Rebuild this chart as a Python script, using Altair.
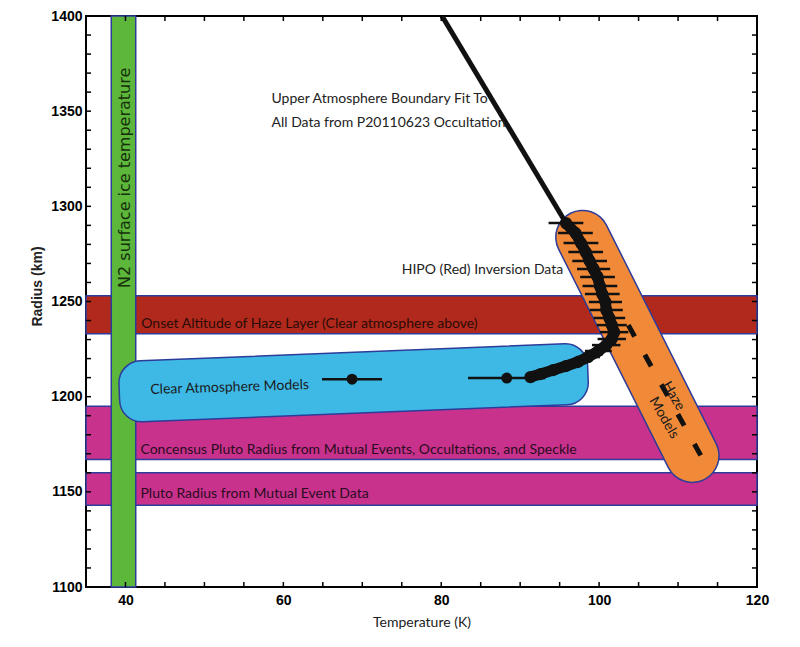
import altair as alt
import pandas as pd

# ---------------- data ----------------
x_domain = [35, 120]
y_domain = [1100, 1400]

# horizontal bands (radius, km)
band_lo = [1233, 1167, 1143]
band_hi = [1253, 1195, 1160]
band_color = ["#b1291c", "#c8328c", "#c8328c"]

# N2 surface ice temperature band (K)
ice_lo = [38.2]
ice_hi = [41.3]

# upper atmosphere boundary fit
fit_T = [80.1, 95.8]
fit_R = [1400.0, 1291.2]

# HIPO (red) inversion data
hipo_T = [95.8, 97.0, 97.7, 98.3, 98.8, 99.3, 99.8, 100.1, 100.4, 100.8, 100.9,
          101.3, 101.6, 101.9, 101.6, 100.9, 99.9, 98.6, 97.3, 95.8, 94.2, 92.6, 91.3]
hipo_R = [1291.2, 1286.0, 1280.7, 1276.0, 1271.3, 1267.1, 1262.9, 1258.1, 1253.9,
          1249.7, 1245.5, 1241.3, 1237.6, 1233.9, 1230.3, 1227.1, 1224.0, 1220.8,
          1218.2, 1216.1, 1214.0, 1211.9, 1210.3]
hipo_err = [2.2, 2.2, 2.2, 2.2, 2.2, 2.1, 2.2, 2.2, 2.2, 2.1, 2.1, 2.0, 1.9, 1.8,
            1.8, 1.8, 1.7, 1.5, 1.2, 0.9, 0.7, 0.5, 0.4]

# clear atmosphere model points
clear_T = [68.7, 88.3]
clear_R = [1209.2, 1209.8]
clear_err = [3.8, 4.9]

# haze model (dashed)
haze_T = [103.7, 113.2]
haze_R = [1237.6, 1166.7]

# annotation regions
clear_box_T = [68.9]
clear_box_R = [1207.3]
haze_box_T = [97.9, 111.8]
haze_box_R = [1283.8, 1169.0]

# tick values
x_label_vals = [40, 60, 80, 100, 120]
x_tick_vals = list(range(40, 121, 5))
y_label_vals = [1100, 1150, 1200, 1250, 1300, 1350, 1400]
y_tick_vals = list(range(1100, 1401, 10))

# annotation texts
txt_left = [
    ("Upper Atmosphere Boundary Fit To", 58.5, 1356.4),
    ("All Data from P20110623 Occultation", 58.5, 1343.8),
    ("HIPO (Red) Inversion Data", 75.0, 1266.5),
    ("Onset Altitude of Haze Layer (Clear atmosphere above)", 42.0, 1238.4),
    ("Concensus Pluto Radius from Mutual Events, Occultations, and Speckle", 41.9, 1171.9),
    ("Pluto Radius from Mutual Event Data", 41.9, 1148.6),
]

# ---------------- layout ----------------
W, H = 671, 571
FONT = "Lato"
FS = 14
AXFONT = "Liberation Sans"
BORDER = "#2d3c9a"

xs = alt.Scale(domain=x_domain, nice=False, zero=False)
ys = alt.Scale(domain=y_domain, nice=False, zero=False)

base_axes = alt.Chart(pd.DataFrame({"T": [60.0], "R": [1250.0]})).mark_point(opacity=0).encode(
    x=alt.X("T:Q", scale=xs, title="Temperature (K)",
            axis=alt.Axis(values=x_label_vals, ticks=False, domain=False, grid=False,
                          format="d", labelFlush=False,
                          labelFont=AXFONT, labelFontWeight="bold", labelFontSize=14,
                          labelColor="black", labelPadding=6,
                          titleFont=FONT, titleFontWeight="normal", titleFontSize=14,
                          titleColor="#222", titlePadding=8)),
    y=alt.Y("R:Q", scale=ys, title="Radius (km)",
            axis=alt.Axis(values=y_label_vals, ticks=False, domain=False, grid=False,
                          format="d", labelFlush=False,
                          labelFont=AXFONT, labelFontWeight="bold", labelFontSize=14,
                          labelColor="black", labelPadding=4,
                          titleFont=AXFONT, titleFontWeight="bold",
                          titleFontSize=14, titleColor="#222",
                          titleX=-49, titleY=270, titleAngle=270,
                          titleAlign="center", titleBaseline="middle")),
)

bands_df = pd.DataFrame({"lo": band_lo, "hi": band_hi, "c": band_color})
bands = alt.Chart(bands_df).mark_rect(stroke=BORDER, strokeWidth=1.5).encode(
    x=alt.value(0), x2=alt.value(W),
    y=alt.Y("lo:Q", scale=ys), y2="hi:Q",
    fill=alt.Fill("c:N", scale=None),
)

ice = alt.Chart(pd.DataFrame({"lo": ice_lo, "hi": ice_hi})).mark_rect(
    fill="#5cb73b", stroke=BORDER, strokeWidth=1.5).encode(
    x=alt.X("lo:Q", scale=xs), x2="hi:Q", y=alt.value(0), y2=alt.value(H))

# rounded, slightly tilted box for the clear atmosphere models
bw, bh, br = 469.0, 61.0, 22.0
s = bw / 2
h = (bh / 2) / s
r = br / s
k = 0.5523 * r
def f(v):
    return f"{v:.4f}"
box_path = (
    f"M{f(-1 + r)},{f(-h)} L{f(1 - r)},{f(-h)} "
    f"C{f(1 - r + k)},{f(-h)} {f(1)},{f(-h + r - k)} {f(1)},{f(-h + r)} "
    f"L{f(1)},{f(h - r)} "
    f"C{f(1)},{f(h - r + k)} {f(1 - r + k)},{f(h)} {f(1 - r)},{f(h)} "
    f"L{f(-1 + r)},{f(h)} "
    f"C{f(-1 + r - k)},{f(h)} {f(-1)},{f(h - r + k)} {f(-1)},{f(h - r)} "
    f"L{f(-1)},{f(-h + r)} "
    f"C{f(-1)},{f(-h + r - k)} {f(-1 + r - k)},{f(-h)} {f(-1 + r)},{f(-h)} Z"
)
clear_box = alt.Chart(pd.DataFrame({"T": clear_box_T, "R": clear_box_R})).mark_point(
    shape=box_path, size=bw * bw, angle=357.7, filled=True, fill="#3eb9e6",
    stroke=BORDER, strokeWidth=1.5, opacity=1, fillOpacity=1).encode(
    x=alt.X("T:Q", scale=xs), y=alt.Y("R:Q", scale=ys))

haze_df = pd.DataFrame({"T": haze_box_T, "R": haze_box_R, "o": [0, 1]})
haze_border = alt.Chart(haze_df).mark_line(color=BORDER, strokeWidth=55, strokeCap="round").encode(
    x=alt.X("T:Q", scale=xs), y=alt.Y("R:Q", scale=ys), order="o:Q")
haze_fill = alt.Chart(haze_df).mark_line(color="#f08a38", strokeWidth=52, strokeCap="round").encode(
    x=alt.X("T:Q", scale=xs), y=alt.Y("R:Q", scale=ys), order="o:Q")

fit = alt.Chart(pd.DataFrame({"T": fit_T, "R": fit_R, "o": [0, 1]})).mark_line(
    color="#111", strokeWidth=5, clip=True).encode(
    x=alt.X("T:Q", scale=xs), y=alt.Y("R:Q", scale=ys), order="o:Q")

hz = alt.Chart(pd.DataFrame({"T": haze_T, "R": haze_R, "o": [0, 1]})).mark_line(
    color="#111", strokeWidth=5, strokeDash=[13, 21]).encode(
    x=alt.X("T:Q", scale=xs), y=alt.Y("R:Q", scale=ys), order="o:Q")

hipo_df = pd.DataFrame({"T": hipo_T, "R": hipo_R, "e": hipo_err, "o": list(range(len(hipo_T)))})
hipo_df["lo"] = hipo_df["T"] - hipo_df["e"]
hipo_df["hi"] = hipo_df["T"] + hipo_df["e"]
hipo_bars = alt.Chart(hipo_df).mark_rule(color="#111", strokeWidth=2.5).encode(
    x=alt.X("lo:Q", scale=xs), x2="hi:Q", y=alt.Y("R:Q", scale=ys))
hipo_line = alt.Chart(hipo_df).mark_line(color="#111", strokeWidth=11, strokeJoin="round").encode(
    x=alt.X("T:Q", scale=xs), y=alt.Y("R:Q", scale=ys), order="o:Q")
hipo_pts = alt.Chart(hipo_df).mark_circle(color="#111", size=150, opacity=1).encode(
    x=alt.X("T:Q", scale=xs), y=alt.Y("R:Q", scale=ys))

clear_df = pd.DataFrame({"T": clear_T, "R": clear_R, "e": clear_err})
clear_df["lo"] = clear_df["T"] - clear_df["e"]
clear_df["hi"] = clear_df["T"] + clear_df["e"]
clear_bars = alt.Chart(clear_df).mark_rule(color="#111", strokeWidth=2.5).encode(
    x=alt.X("lo:Q", scale=xs), x2="hi:Q", y=alt.Y("R:Q", scale=ys))
clear_pts = alt.Chart(clear_df).mark_circle(color="#111", size=120, opacity=1).encode(
    x=alt.X("T:Q", scale=xs), y=alt.Y("R:Q", scale=ys))

# inward ticks on all four sides
xt = pd.DataFrame({"v": x_tick_vals})
yt = pd.DataFrame({"v": y_tick_vals})
tick_layers = [
    alt.Chart(xt).mark_rule(color="black", strokeWidth=1.5).encode(
        x=alt.X("v:Q", scale=xs), y=alt.value(H), y2=alt.value(H - 5)),
    alt.Chart(xt).mark_rule(color="black", strokeWidth=1.5).encode(
        x=alt.X("v:Q", scale=xs), y=alt.value(0), y2=alt.value(5)),
    alt.Chart(yt).mark_rule(color="black", strokeWidth=1.5).encode(
        y=alt.Y("v:Q", scale=ys), x=alt.value(0), x2=alt.value(5)),
    alt.Chart(yt).mark_rule(color="black", strokeWidth=1.5).encode(
        y=alt.Y("v:Q", scale=ys), x=alt.value(W), x2=alt.value(W - 5)),
]

tl = pd.DataFrame(txt_left, columns=["t", "T", "R"])
tl["c"] = ["#222", "#222", "#222", "#2a0c06", "#2a0c1e", "#2a0c1e"]
text_left = alt.Chart(tl).mark_text(align="left", baseline="middle", font=FONT, fontSize=FS).encode(
    x=alt.X("T:Q", scale=xs), y=alt.Y("R:Q", scale=ys), text="t:N",
    color=alt.Color("c:N", scale=None))

def label(t, T, R, angle, size=FS, font=FONT, color="#1b1b1b"):
    return alt.Chart(pd.DataFrame({"t": [t], "T": [T], "R": [R]})).mark_text(
        align="center", baseline="middle", font=font, fontSize=size, angle=angle,
        color=color).encode(x=alt.X("T:Q", scale=xs), y=alt.Y("R:Q", scale=ys), text="t:N")

texts = [
    text_left,
    label("Clear Atmosphere Models", 53.2, 1204.8, 358.2),
    label("N2 surface ice temperature", 39.9, 1315.0, 270, size=16, font="DejaVu Sans", color="#16300c"),
    label("Haze", 109.4, 1200.3, 60),
    label("Models", 108.2, 1188.8, 60),
]

chart = alt.layer(
    base_axes, bands, ice, clear_box, haze_border, haze_fill,
    fit, hz, hipo_bars, hipo_line, hipo_pts, clear_bars, clear_pts,
    *tick_layers, *texts,
).properties(
    width=W, height=H,
    autosize=alt.AutoSizeParams(type="none"),
    padding={"left": 78, "top": 8, "right": 30, "bottom": 50},
    background="white",
).configure_view(stroke="black", strokeWidth=2)

chart.save("out.html", embed_options={"renderer": "svg", "actions": False})
